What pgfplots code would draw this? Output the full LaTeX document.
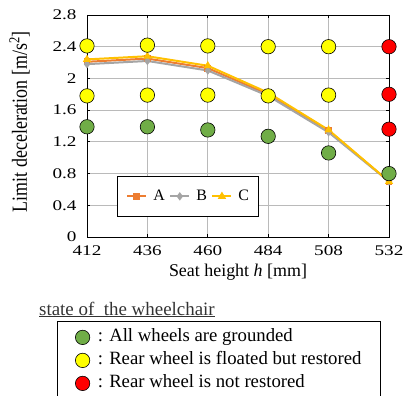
\documentclass[border=0pt]{standalone}
\usepackage{graphicx}
\usepackage{pgfplots}
\pgfplotsset{compat=1.18}
\usepackage{fontspec}
\setmainfont{Liberation Serif}
\newfontfamily\tickfont[FakeStretch=1.3]{Liberation Serif}
\definecolor{cA}{HTML}{ED7D31}
\definecolor{cB}{HTML}{A5A5A5}
\definecolor{cC}{HTML}{FFC000}
\definecolor{cG}{HTML}{70AD47}
\definecolor{cY}{HTML}{FFFF00}
\definecolor{cR}{HTML}{FF0000}
\begin{document}
\begin{tikzpicture}[x=1bp,y=1bp]
\clip (0,0) rectangle (403,396);
\begin{axis}[
  at={(87bp,159bp)}, anchor=south west,
  scale only axis, width=302bp, height=222bp,
  xmin=412, xmax=532, ymin=0, ymax=2.8,
  xtick={412,436,460,484,508,532},
  ytick={0,0.4,0.8,1.2,1.6,2,2.4,2.8},
  yticklabels={0,0.4,0.8,1.2,1.6,2,2.4,2.8},
  xticklabels={412,436,460,484,508,532},
  grid=major, major grid style={black!27, line width=0.9bp},
  axis line style={black, line width=0.9bp},
  tick style={black, line width=0.8bp}, major tick length=3bp,
  tick align=inside,
  ticklabel style={font=\tickfont\fontsize{14.8}{17}\selectfont},
  xticklabel style={yshift=-5bp},
  yticklabel style={xshift=-7bp},
  xlabel={Seat height \textit{h} [mm]},
  ylabel={\scalebox{1}[1.2]{Limit deceleration [m/s\textsuperscript{2}]}},
  xlabel style={font=\fontsize{18}{21}\selectfont, at={(axis description cs:0.5,-0.180)}, anchor=base},
  ylabel style={font=\fontsize{18}{21}\selectfont, at={(axis description cs:-0.2235,0.52)}, anchor=center},
  legend style={at={(rel axis cs:0.099,0.275)}, anchor=north west,
    draw=black, line width=0.8bp, font=\fontsize{16}{19}\selectfont,
    legend columns=3, inner xsep=9bp, inner ysep=13bp,
    nodes={inner xsep=0pt, inner ysep=0pt, text height=11bp, text depth=3bp},
    /tikz/every odd column/.append style={column sep=6bp},
    /tikz/every even column/.append style={column sep=4.5bp}},
  legend image code/.code={\draw[#1] (0,0) -- (19bp,0); \draw[#1,only marks] plot coordinates {(9.5bp,0)};},
]
\addplot[color=cA, line width=2bp, mark=square*, mark size=2.4bp, mark options={fill=cA, solid}] coordinates {
(412,2.21) (436,2.25) (460,2.13) (484,1.80) (508,1.34) (532,0.70)};
\addlegendentry{A}
\addplot[color=cB, line width=2bp, mark=diamond*, mark size=2.6bp, mark options={fill=cB, solid}] coordinates {
(412,2.18) (436,2.22) (460,2.10) (484,1.78) (508,1.32) (532,0.70)};
\addlegendentry{B}
\addplot[color=cC, line width=2bp, mark=triangle*, mark size=2.8bp, mark options={fill=cC, solid}] coordinates {
(412,2.24) (436,2.28) (460,2.16) (484,1.82) (508,1.35) (532,0.70)};
\addlegendentry{C}
\end{axis}
\begin{axis}[
  at={(87bp,159bp)}, anchor=south west,
  scale only axis, width=302bp, height=222bp,
  xmin=412, xmax=532, ymin=0, ymax=2.8,
  hide axis, clip=false,
  legend style={at={(rel axis cs:-0.0993,-0.3784)}, anchor=north west,
    draw=black, line width=0.8bp, font=\fontsize{18.8}{22}\selectfont,
    legend cell align=left, inner xsep=18bp, inner ysep=7.5bp,
    nodes={inner xsep=1bp, inner ysep=0pt, text height=13bp, text depth=4bp},
    row sep=6bp,
    /tikz/every odd column/.append style={column sep=7bp}},
  legend image code/.code={\draw[#1] plot coordinates {(7.2bp,0)};},
]
\addplot[only marks, mark=*, mark size=7.2bp, mark options={fill=cG, draw=black, line width=0.6bp}] coordinates {
(412,1.39) (436,1.39) (460,1.35) (484,1.27) (508,1.06) (532,0.80)};
\addlegendentry{: All wheels are grounded}
\addplot[only marks, mark=*, mark size=7.2bp, mark options={fill=cY, draw=black, line width=0.6bp}] coordinates {
(412,2.41) (436,2.42) (460,2.41) (484,2.40) (508,2.40)
(412,1.78) (436,1.79) (460,1.79) (484,1.78) (508,1.79)};
\addlegendentry{: Rear wheel is floated but restored}
\addplot[only marks, mark=*, mark size=7.2bp, mark options={fill=cR, draw=black, line width=0.6bp}] coordinates {
(532,2.40) (532,1.80) (532,1.36)};
\addlegendentry{: Rear wheel is not restored}
\end{axis}
\node[anchor=base west, inner sep=0pt, text=black!80, font=\fontsize{19}{22}\selectfont] at (39,81) {\underline{state of\ \ the wheelchair}};
\end{tikzpicture}
\end{document}
